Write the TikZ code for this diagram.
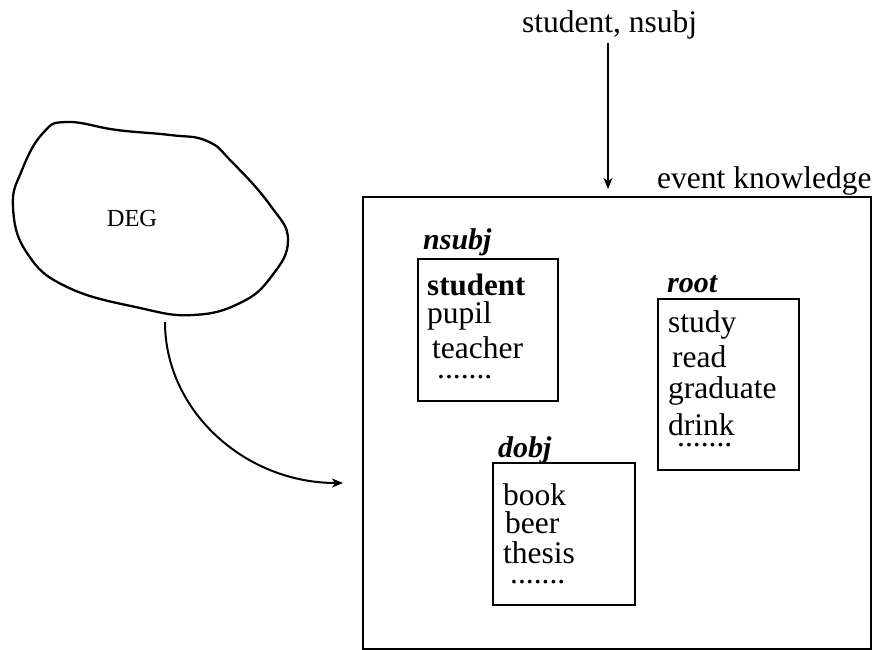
\documentclass[tikz,border=0pt]{standalone}
\usepackage{fontspec}
\setmainfont{Liberation Serif}
\usetikzlibrary{arrows.meta,fit}

\tikzset{
  txt/.style={inner sep=0pt, anchor=base west, font=\fontsize{31.5}{38}\selectfont},
  lbl/.style={txt, font=\fontsize{30}{36}\selectfont\bfseries\itshape},
  more/.style={txt, text height=3pt, text depth=0pt},
  box/.style={draw, line width=2.4pt, inner sep=0pt},
  arr/.style={line width=2pt, -{Stealth[length=11pt,width=9pt,inset=3pt]}},
}

\begin{document}
\begin{tikzpicture}[x=1pt, y=-1pt]
\useasboundingbox (0,0) rectangle (879,650);

% input word and its relation
\node[txt] (stud) at (522,33) {student, nsubj};
\coordinate (ekin) at (608,189);
\draw[arr, shorten <=3pt] (stud.south -| ekin) -- (ekin);

% event knowledge frame
\node[box, fit={(363,197) (871,649)}] (ek) {};
\node[txt] (ektitle) at (657,189) {event knowledge};

% DEG blob
\draw[line width=2.3pt, tension=0.75] plot[smooth cycle] coordinates {
  (67,122) (117,130) (170,135) (207,141) (232,162) (270,205) (288,240)
  (271,277) (240,303) (193,315) (140,308) (67,287) (27,253) (13,207)
  (22,170) (43,133)};
\node[inner sep=0pt, font=\fontsize{24.5}{29}\selectfont] (deg) at (132,219) {DEG};

% DEG feeds the event knowledge
\coordinate (degout) at (165,322);
\coordinate (ekleft) at (343,483);
\draw[arr] (degout) .. controls (165,411) and (245,483) .. (ekleft);

% nsubj slot
\node[box, fit={(418,259) (558,401)}] (nsubjbox) {};
\node[lbl] (nsubjlbl) at (423,250) {nsubj};
\node[txt, font=\fontsize{31}{37}\selectfont\bfseries] (w1) at (427,295) {student};
\node[txt] (w2) at (427,323) {pupil};
\node[txt] (w3) at (432,358) {teacher};
\node[more] (w4) at (437,378) {.......};

% root slot
\node[box, fit={(658,299) (799,470)}] (rootbox) {};
\node[lbl] (rootlbl) at (667,292) {root};
\node[txt] (r1) at (668,332) {study};
\node[txt] (r2) at (672,367) {read};
\node[txt] (r3) at (668,398) {graduate};
\node[txt] (r4) at (668,435) {drink};
\node[more] (r5) at (677,446) {.......};

% dobj slot
\node[box, fit={(493,463) (635,605)}] (dobjbox) {};
\node[lbl] (dobjlbl) at (498,457) {dobj};
\node[txt] (d1) at (503,505) {book};
\node[txt] (d2) at (505,533) {beer};
\node[txt] (d3) at (503,563) {thesis};
\node[more] (d4) at (510,583) {.......};
\end{tikzpicture}
\end{document}
